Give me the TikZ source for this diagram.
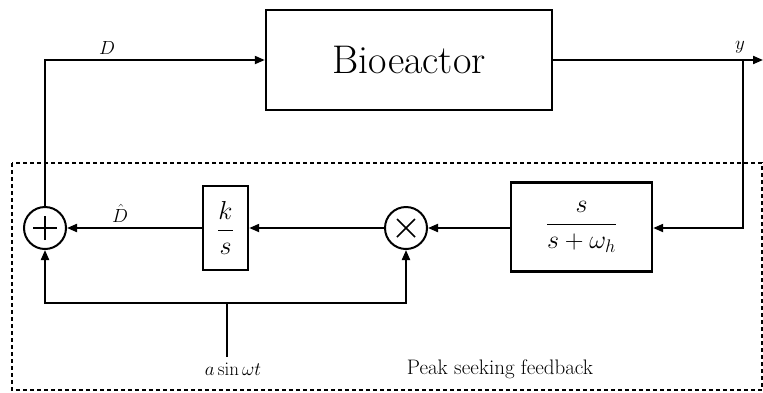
\RequirePackage{fix-cm}
\documentclass[tikz,border=0pt]{standalone}
\usetikzlibrary{arrows.meta}
\begin{document}
\begin{tikzpicture}[x=1pt,y=-1pt,
  blk/.style={draw,line width=2.4pt,inner sep=0pt},
  junc/.style={draw,circle,line width=2pt,minimum size=42pt,inner sep=0pt},
  sig/.style={line width=2pt},
  arr/.style={sig,-{Triangle[length=10pt,width=8pt]}},
  lbl/.style={font=\fontsize{19}{22}\selectfont,inner sep=0pt},
  frac/.style={font=\fontsize{26}{30}\selectfont}
]
\useasboundingbox (0,0) rectangle (763,392);
\node[blk,minimum width=286pt,minimum height=100pt,font=\fontsize{40}{44}\selectfont] (br) at (409,60) {Bioeactor};
\node[blk,frac,minimum width=45pt,minimum height=84pt] (ks) at (225.5,228) {$\displaystyle\frac{k}{s}$};
\node[blk,frac,minimum width=141pt,minimum height=89pt] (hpf) at (581.5,227) {$\displaystyle\frac{s}{s+\omega_h}$};
\node[junc,path picture={\draw[line width=1.6pt] ([xshift=-12pt]path picture bounding box.center) -- ([xshift=12pt]path picture bounding box.center); \draw[line width=1.6pt] ([yshift=-12pt]path picture bounding box.center) -- ([yshift=12pt]path picture bounding box.center);}] (sum) at (45,228) {};
\node[junc,path picture={\draw[line width=1.6pt] ([shift={(-9pt,-9pt)}]path picture bounding box.center) -- ([shift={(9pt,9pt)}]path picture bounding box.center); \draw[line width=1.6pt] ([shift={(-9pt,9pt)}]path picture bounding box.center) -- ([shift={(9pt,-9pt)}]path picture bounding box.center);}] (mul) at (406,228) {};
\coordinate (yend) at (763,60);
\coordinate (ybr) at (743,60);
\coordinate (src) at (227,357);
\coordinate (bus) at (227,303);
% connectors
\draw[arr] (sum.north) |- (br.west);
\draw[arr] (br.east) -- (yend);
\draw[arr] (ybr) |- (hpf.east |- mul);
\draw[arr] (hpf.west |- mul) -- (mul.east);
\draw[arr] (mul.west) -- (ks.east);
\draw[arr] (ks.west) -- (sum.east);
\draw[sig] (src) -- (bus);
\draw[arr] (bus) -| (sum.south);
\draw[arr] (bus) -| (mul.south);
% dashed frame
\draw[line width=2pt,dash pattern=on 4pt off 3pt] (12,163) rectangle (762,390);
% labels
\node[lbl] (lD) at (107,48) {$D$};
\node[lbl] (ly) at (740,47) {$y$};
\node[lbl] (lDh) at (120,213) {$\hat{D}$};
\node[lbl] (lsin) at (233,369) {$a\sin\omega t$};
\node[lbl,font=\fontsize{21}{24}\selectfont] (lpeak) at (500,369) {Peak seeking feedback};
\end{tikzpicture}
\end{document}
